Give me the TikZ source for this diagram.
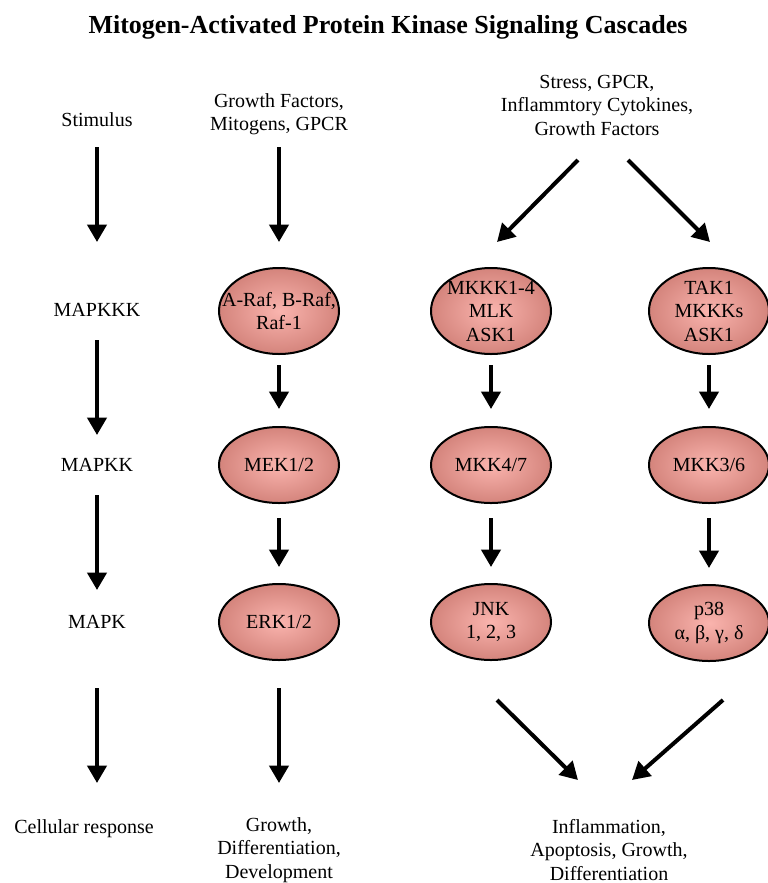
\documentclass[tikz,border=0pt]{standalone}
\usepackage{fontspec}
\setmainfont{Liberation Serif}
\usetikzlibrary{shapes.geometric,arrows.meta}
\definecolor{kinin}{RGB}{250,180,174}
\definecolor{kinout}{RGB}{212,132,124}
\tikzset{
  kin/.style={ellipse, draw=black, line width=1.2pt, inner sep=-12pt, minimum width=72pt, minimum height=45.6pt, inner color=kinin, outer color=kinout, align=center},
  kintop/.style={kin, minimum height=51.6pt},
  lbl/.style={align=center, inner sep=0pt},
  arr/.style={line width=2.4pt, -{Triangle[width=11.5pt,length=10.5pt]}}
}

\begin{document}
\begin{tikzpicture}[x=0.6pt, y=-0.6pt, every node/.style={font=\fontsize{12}{14.1}\selectfont}]
		%%%%% START %%%%%
		\useasboundingbox (0,0) rectangle (768,883);
		
		\node[lbl, font=\bfseries\fontsize{15.6}{18}\selectfont] (title) at (388,27) {Mitogen-Activated Protein Kinase Signaling Cascades};
		
		% row labels
		\node[lbl] (stim) at (97,120) {Stimulus};
		\node[lbl] (kkk) at (97,310) {MAPKKK};
		\node[lbl] (kk) at (97,465) {MAPKK};
		\node[lbl] (k) at (97,622) {MAPK};
		\node[lbl] (resp) at (84,829) {Cellular response};
		
		% stimuli
		\node[lbl] (gf) at (279,114) {Growth Factors,\\Mitogens, GPCR};
		\node[lbl] (stress) at (597,105) {Stress, GPCR,\\Inflammtory Cytokines,\\Growth Factors};
		
		% kinases
		\node[kintop] (raf) at (279,311) {A-Raf, B-Raf,\\Raf-1};
		\node[kintop] (mkkk) at (491,311) {MKKK1-4\\MLK\\ASK1};
		\node[kintop] (tak) at (709,311) {TAK1\\MKKKs\\ASK1};
		\node[kin] (mek) at (279,465) {MEK1/2};
		\node[kin] (mkk47) at (491,465) {MKK4/7};
		\node[kin] (mkk36) at (709,465) {MKK3/6};
		\node[kin] (erk) at (279,622) {ERK1/2};
		\node[kin] (jnk) at (491,622) {JNK\\1, 2, 3};
		\node[kin] (p38) at (709,623) {p38\\α, β, γ, δ};
		
		% responses
		\node[lbl] (growth) at (279,850) {Growth,\\Differentiation,\\Development};
		\node[lbl] (infl) at (609,850) {Inflammation,\\Apoptosis, Growth,\\Differentiation};
		
		% left column
		\draw[arr, shorten <=16.2pt, shorten >=40.8pt] (stim.center) -- (kkk.center);
		\draw[arr, shorten <=18pt, shorten >=18pt] (kkk.center) -- (kk.center);
		\draw[arr, shorten <=18pt, shorten >=19.2pt] (kk.center) -- (k.center);
		\draw[arr, shorten <=39.6pt, shorten >=27.6pt] (k.center) -- (k.center |- resp.center);
		
		% ERK column
		\draw[arr, shorten <=19.8pt, shorten >=15pt] (gf.center) -- (raf);
		\draw[arr, shorten <=6pt, shorten >=10.2pt] (raf) -- (mek);
		\draw[arr, shorten <=8.4pt, shorten >=9.6pt] (mek) -- (erk);
		\draw[arr, shorten <=16.2pt, shorten >=40.2pt] (erk) -- (growth.center);
		
		% JNK and p38 columns
		\coordinate (stressL) at (578,160);
		\coordinate (stressR) at (628,160);
		\coordinate (mkkkIn) at (497,242);
		\coordinate (takIn) at (710,242);
		\draw[arr] (stressL) -- (mkkkIn);
		\draw[arr] (stressR) -- (takIn);
		\draw[arr, shorten <=6pt, shorten >=10.2pt] (mkkk) -- (mkk47);
		\draw[arr, shorten <=6pt, shorten >=10.2pt] (tak) -- (mkk36);
		\draw[arr, shorten <=8.4pt, shorten >=9.6pt] (mkk47) -- (jnk);
		\draw[arr, shorten <=8.4pt, shorten >=9.6pt] (mkk36) -- (p38);
		
		\coordinate (jnkOut) at (497,700);
		\coordinate (p38Out) at (723,700);
		\coordinate (inflL) at (578,780);
		\coordinate (inflR) at (632,780);
		\draw[arr] (jnkOut) -- (inflL);
		\draw[arr] (p38Out) -- (inflR);
		
		%%%%% END %%%%%
	\end{tikzpicture}
\end{document}
